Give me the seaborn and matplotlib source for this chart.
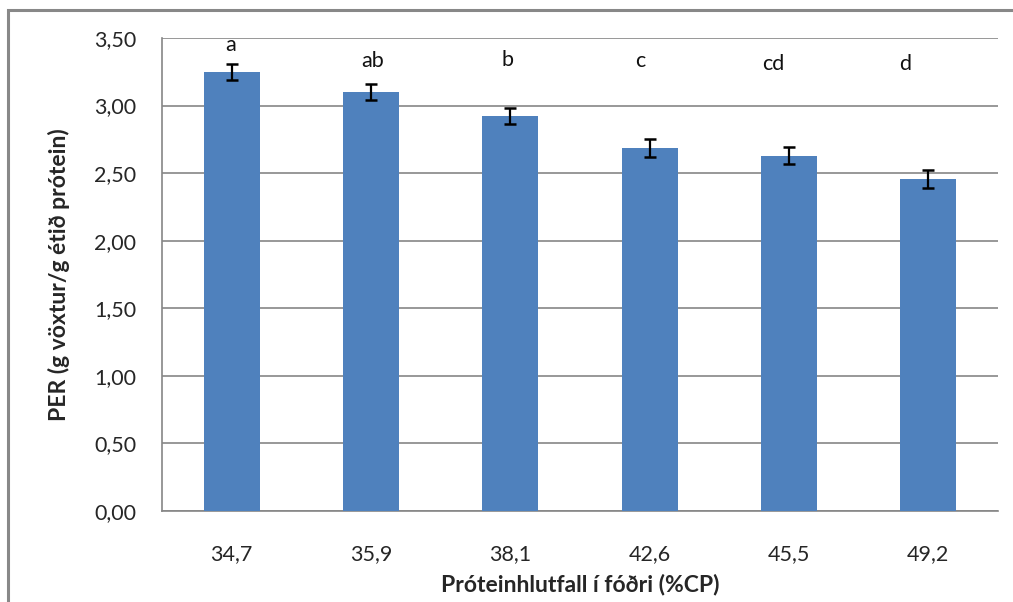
import matplotlib
matplotlib.use("Agg")
import matplotlib.pyplot as plt
import seaborn as sns
import pandas as pd
import numpy as np
from matplotlib.patches import Rectangle

# ---- data ----
categories = ["34,7", "35,9", "38,1", "42,6", "45,5", "49,2"]
per_values = [3.25, 3.10, 2.92, 2.685, 2.63, 2.455]
per_errors = [0.06, 0.06, 0.06, 0.065, 0.06, 0.065]
sig_letters = ["a", "ab", "b", "c", "cd", "d"]
y_ticks = [0.0, 0.5, 1.0, 1.5, 2.0, 2.5, 3.0, 3.5]

# ---- layout (label placement) ----
letter_y = [3.45, 3.33, 3.34, 3.33, 3.31, 3.31]
letter_dx = [-0.01, 0.01, -0.02, -0.07, -0.11, -0.165]

sns.set_theme(style="white")
plt.rcParams["font.family"] = ["Lato", "DejaVu Sans"]

df = pd.DataFrame({"cat": categories, "val": per_values})

fig = plt.figure(figsize=(10.13, 6.02), dpi=100)
ax = fig.add_axes([162 / 1013, 1 - 511 / 602, (998 - 162) / 1013, (511 - 38) / 602])

sns.barplot(data=df, x="cat", y="val", color="#4F81BD", saturation=1,
            width=0.4, errorbar=None, ax=ax, zorder=3, linewidth=0)
xs = np.arange(len(categories))
ax.errorbar(xs, per_values, yerr=per_errors, fmt="none", ecolor="black",
            elinewidth=1.6, capsize=4.5, capthick=1.8, zorder=4)

for i, (lt, ly, dx) in enumerate(zip(sig_letters, letter_y, letter_dx)):
    ax.text(i + dx, ly, lt, ha="center", va="center", fontsize=15.5, color="#111111")

ax.set_ylim(0, 3.5)
ax.set_xlim(-0.5, len(categories) - 0.5)
ax.set_yticks(y_ticks)
ax.set_yticklabels([f"{v:.2f}".replace(".", ",") for v in y_ticks], fontsize=15.5)
ax.set_xticks(xs)
ax.set_xticklabels(categories, fontsize=15.5)
ax.set_xticks(np.arange(-0.5, len(categories)), minor=True)
ax.tick_params(axis="x", which="major", length=0, pad=24)
ax.tick_params(axis="x", which="minor", length=7, width=1, color="#868686", direction="out")
ax.tick_params(axis="y", which="major", length=6.5, width=1, color="#868686", pad=12)

ax.yaxis.grid(True, color="#868686", linewidth=1.2, zorder=0)
ax.xaxis.grid(False)
ax.set_axisbelow(True)
for s in ["top", "right"]:
    ax.spines[s].set_visible(False)
for s in ["left", "bottom"]:
    ax.spines[s].set_color("#868686")
    ax.spines[s].set_linewidth(1.2)

ax.set_ylabel("PER (g vöxtur/g étið prótein)", fontsize=16.5, fontweight="bold")
ax.yaxis.set_label_coords((70 - 162) / 836, 0.5)
ax.set_xlabel("Próteinhlutfall í fóðri (%CP)", fontsize=16.5, fontweight="bold")
ax.xaxis.set_label_coords(0.5, -(574 - 511) / 473)

fig.patches.append(Rectangle((8 / 1013, -0.1), 1.2, 1.1 - 10 / 602,
                             transform=fig.transFigure, fill=False,
                             edgecolor="#888888", linewidth=2.2))

fig.savefig("out.png", dpi=100)
